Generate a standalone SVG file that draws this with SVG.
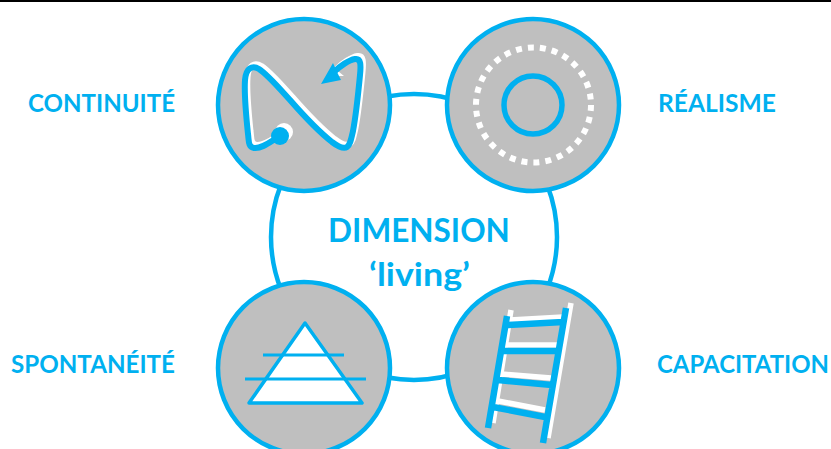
<svg xmlns="http://www.w3.org/2000/svg" width="831" height="449" viewBox="0 0 831 449">
<style>
.node{fill:#bfbfbf;stroke:#00b0f0;stroke-width:4.5}
.lab{font-family:Lato,"Liberation Sans",sans-serif;font-weight:700;fill:#00b0f0;font-size:24px}
.ttl{font-family:Lato,"Liberation Sans",sans-serif;font-weight:700;fill:#00b0f0;font-size:31.5px;text-anchor:middle}
.b{fill:none;stroke:#00b0f0}
.w{fill:none;stroke:#fff}
</style>
<defs>
<path id="np" d="M280 136C270 142 262 149 254 148C248 147 249 141 248 134C246 115 244 95 245 80C246 68 252 65 259 69C268 75 279 88 290 100C304 116 318 131 332 142C340 148 344 149 347 147C350 145 351 140 353 131C356 115 358 96 360 75C361 65 361 58 355 59C349 60 340 66 334 72"/>
</defs>
<rect width="831" height="2" fill="#000"/>
<g id="connectors">
<circle class="b" cx="414" cy="237" r="143" stroke-width="4.5"/>
</g>
<g id="node-continuite">
<circle class="node" cx="304" cy="105" r="86"/>
<use href="#np" class="w" stroke-width="6" transform="translate(2.5,-3)"/>
<path d="M333 67L331 62L337 76L344 76Z" fill="#fff"/>
<use href="#np" class="b" stroke-width="6"/>
<path d="M321 84L333 63L337 72L341 80Z" fill="#00b0f0"/>
<circle cx="284" cy="132" r="9" fill="#fff"/>
<circle cx="280" cy="136" r="9" fill="#00b0f0"/>
<text class="lab" x="28" y="112" textLength="147" lengthAdjust="spacingAndGlyphs">CONTINUITÉ</text>
</g>
<g id="node-realisme">
<circle class="node" cx="533" cy="105" r="86"/>
<circle cx="533.5" cy="105" r="57.5" fill="none" stroke="#fff" stroke-width="6" stroke-dasharray="6 6.04"/>
<circle cx="533" cy="105" r="29" fill="none" stroke="#00b0f0" stroke-width="5.5"/>
<text class="lab" x="658" y="112" textLength="118" lengthAdjust="spacingAndGlyphs">RÉALISME</text>
</g>
<g id="node-spontaneite">
<circle class="node" cx="304" cy="368" r="86"/>
<path d="M305 323L362 403H249Z" fill="#fff" stroke="#00b0f0" stroke-width="3.5" stroke-linejoin="round"/>
<path d="M263 355H344M245 379H366" class="b" stroke-width="3"/>
<text class="lab" x="11" y="373" textLength="164" lengthAdjust="spacingAndGlyphs">SPONTANÉITÉ</text>
</g>
<g id="node-capacitation">
<circle class="node" cx="533" cy="368" r="86"/>
<path d="M571 303L548 438M511 310L493 423M510 320L563 317M505 345L557 345M502 374L551 378M498 401L545 410" class="w" stroke-width="5.5"/>
<path d="M566 308L543 443M507 316L488 428M508 325L563 322M503 351L557 351M498 380L552 385M493 407L545 417" class="b" stroke-width="6.5"/>
<text class="lab" x="657" y="373" textLength="172" lengthAdjust="spacingAndGlyphs">CAPACITATION</text>
</g>
<g id="title">
<text class="ttl" x="419" y="242">DIMENSION</text>
<text class="ttl" x="419.5" y="286" textLength="101" lengthAdjust="spacingAndGlyphs">‘living’</text>
</g>
</svg>
